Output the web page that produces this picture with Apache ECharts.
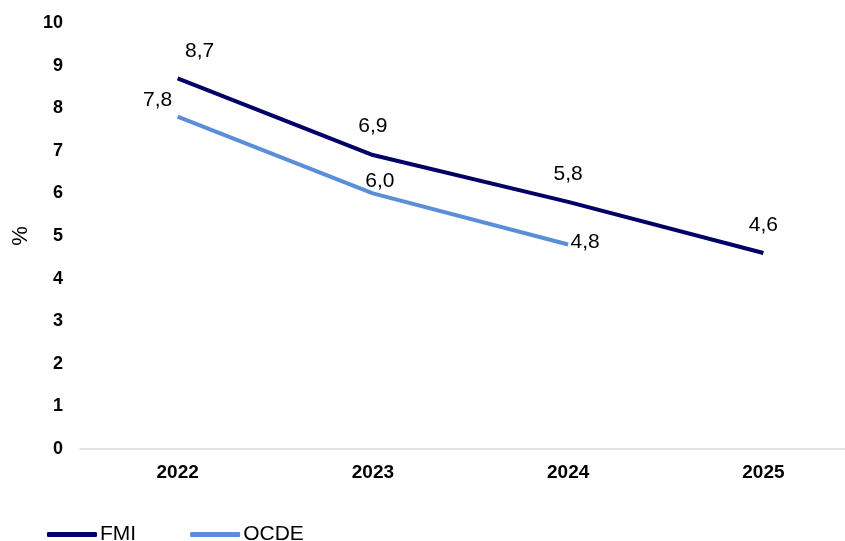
<!DOCTYPE html>
<html>
<head>
<meta charset="utf-8">
<script src="https://cdn.jsdelivr.net/npm/echarts@6/dist/echarts.min.js"></script>
<style>
html,body{margin:0;padding:0;background:#fff;}
#main{width:845px;height:541px;}
</style>
</head>
<body>
<div id="main"></div>
<script>
var years = ['2022', '2023', '2024', '2025'];
var fmi = [8.7, 6.9, 5.8, 4.6];
var ocde = [7.8, 6.0, 4.8, null];

// label offsets per point (dx, dy) from the point
var fmiOff = [[22, -27], [0, -29], [0, -28], [0, -28]];
var ocdeOff = [[-20, -17], [7, -12], [17, -2], [0, 0]];

function fmt(v) { return v.toFixed(1).replace('.', ','); }

function build(vals, offs) {
	var out = [];
	for (var i = 0; i < vals.length; i++) {
		if (vals[i] == null) { out.push(null); continue; }
		out.push({
			value: vals[i],
			label: {offset: offs[i]}
		});
	}
	return out;
}

var font = '"Liberation Sans", Arial, sans-serif';
var myChart = echarts.init(document.getElementById('main'));
var lbl = {
	show: true,
	position: 'inside',
	align: 'center',
	verticalAlign: 'middle',
	fontFamily: font,
	fontSize: 21,
	color: '#000',
	formatter: function (p) { return fmt(p.value); }
};
var option = {
	animation: false,
	textStyle: {fontFamily: font},
	grid: {left: 80, top: 23, width: 781, height: 426, containLabel: false, outerBoundsMode: 'none'},
	legend: {
		left: 42, top: 519,
		itemWidth: 50, itemHeight: 5, itemGap: 54,
		icon: 'roundRect',
		textStyle: {fontSize: 21, color: '#000', fontFamily: font, padding: [0, 0, 0, -2]},
		data: ['FMI', 'OCDE']
	},
	xAxis: {
		type: 'category',
		data: years,
		axisLine: {lineStyle: {color: '#d9d9d9', width: 1.5}},
		axisTick: {show: false},
		axisLabel: {fontSize: 19, fontWeight: 'bold', color: '#000', margin: 14, fontFamily: font}
	},
	yAxis: {
		type: 'value',
		min: 0, max: 10, interval: 1,
		name: '%',
		nameLocation: 'middle',
		nameRotate: 90,
		nameGap: 47,
		nameTextStyle: {fontSize: 22, color: '#000', fontFamily: font},
		splitLine: {show: false},
		axisLine: {show: false},
		axisTick: {show: false},
		axisLabel: {fontSize: 18, fontWeight: 'bold', color: '#000', margin: 17, fontFamily: font}
	},
	series: [
		{
			name: 'FMI', type: 'line',
			data: build(fmi, fmiOff),
			symbol: 'circle', symbolSize: 0,
			lineStyle: {color: '#000066', width: 4},
			itemStyle: {color: '#000066'},
			label: lbl
		},
		{
			name: 'OCDE', type: 'line',
			data: build(ocde, ocdeOff),
			symbol: 'circle', symbolSize: 0,
			lineStyle: {color: '#5b8ed8', width: 4},
			itemStyle: {color: '#5b8ed8'},
			label: lbl
		}
	]
};
myChart.setOption(option);
</script>
</body>
</html>
